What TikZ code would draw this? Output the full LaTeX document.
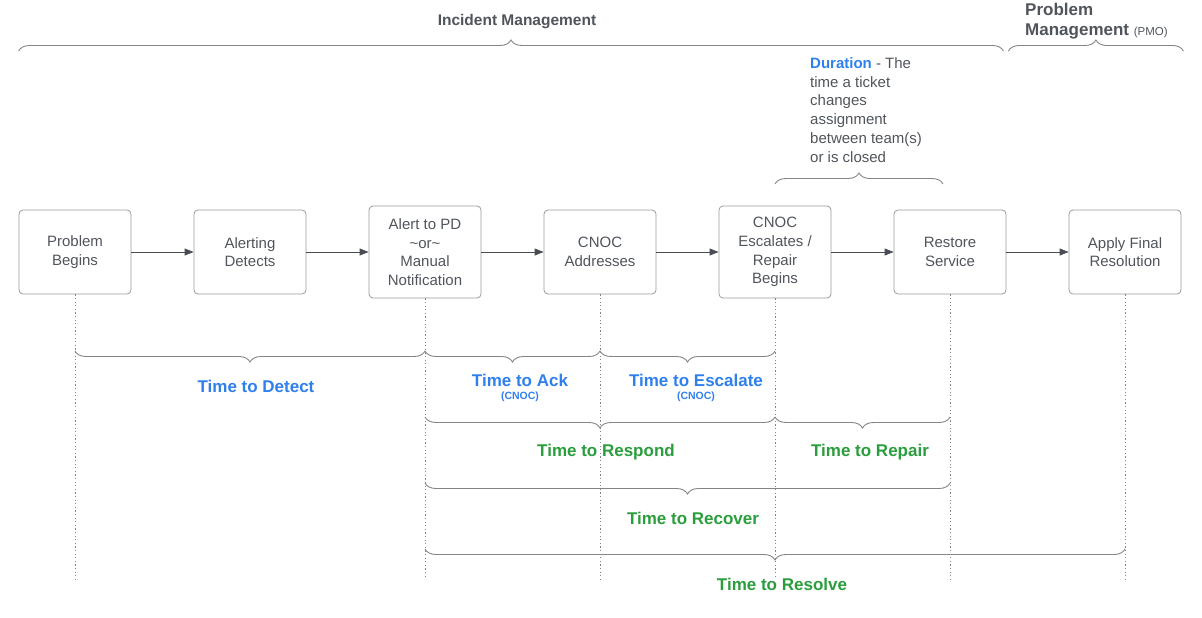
\documentclass[tikz,border=0pt]{standalone}
\usepackage{fontspec}
\setmainfont{Liberation Sans}
\usetikzlibrary{positioning}
\usetikzlibrary{arrows.meta}
\usetikzlibrary{decorations.pathreplacing}
\definecolor{boxline}{HTML}{9A9A9A}
\definecolor{txtgray}{HTML}{50555C}
\definecolor{lineg}{HTML}{858585}
\definecolor{tblue}{HTML}{2F80ED}
\definecolor{tgreen}{HTML}{2A9D3C}
\tikzset{node distance=62.2pt,
    box/.style={
        draw=boxline,
        line width=0.8pt,
        rounded corners=4pt,
        minimum width=112pt,
        minimum height=84pt,
        align=center,
        text=txtgray,
        font=\fontsize{15}{18.7}\selectfont},
    tall/.style={box, minimum height=92pt},
    arr/.style={
        draw=txtgray!90!black,
        line width=0.8pt,
        -{Triangle[length=9pt,width=7pt]}},
    drop/.style={
        draw=lineg,
        line width=0.8pt,
        dash pattern=on 1.2pt off 2.4pt},
    bup/.style={
        draw=lineg,
        line width=0.9pt,
        decorate,
        decoration={brace, amplitude=11pt}},
    bdown/.style={
        draw=lineg,
        line width=0.9pt,
        decorate,
        decoration={brace, mirror, amplitude=11pt}},
    lbl/.style={font=\fontsize{17}{20}\selectfont\bfseries},
    sub/.style={font=\fontsize{10.5}{12}\selectfont\bfseries, text=tblue}}

\begin{document}
\begin{tikzpicture}[x=1pt, y=-1pt]
    \useasboundingbox (0,0) rectangle (1202,618);
    % process steps
    \node[box] (pb) at (75,252) {Problem\\Begins};
    \node[box, right=of pb] (ad) {Alerting\\Detects};
    \node[tall, right=of ad] (al) {Alert to PD\\\textasciitilde or\textasciitilde\\Manual\\Notification};
    \node[box, right=of al] (ca) {CNOC\\Addresses};
    \node[tall, right=of ca] (ce) {CNOC\\Escalates /\\Repair\\Begins};
    \node[box, right=of ce] (rs) {Restore\\Service};
    \node[box, right=of rs] (af) {Apply Final\\Resolution};
    \draw[arr] (pb) -- (ad);
    \draw[arr] (ad) -- (al);
    \draw[arr] (al) -- (ca);
    \draw[arr] (ca) -- (ce);
    \draw[arr] (ce) -- (rs);
    \draw[arr] (rs) -- (af);
    % rows
    \coordinate (ytop) at (0,51);
    \coordinate (ydur) at (0,184);
    \coordinate (y1) at (0,351);
    \coordinate (y2) at (0,417);
    \coordinate (y3) at (0,483);
    \coordinate (y4) at (0,549);
    \coordinate (ybot) at (0,579);
    % time lines
    \draw[drop] (pb.south) -- (pb |- ybot);
    \draw[drop] (al.south) -- (al |- ybot);
    \draw[drop] (ca.south) -- (ca |- ybot);
    \draw[drop] (ce.south) -- (ce |- ybot);
    \draw[drop] (rs.south) -- (rs |- ybot);
    \draw[drop] (af.south) -- (af |- ybot);
    % top
    \draw[bup] (pb.west |- ytop) -- ([xshift=-3pt]rs.east |- ytop);
    \draw[bup] ([xshift=2pt]rs.east |- ytop) -- ([xshift=2pt]af.east |- ytop);
    \node[lbl, text=txtgray, font=\fontsize{15.5}{18}\selectfont\bfseries] (im) at (517,21.5) {Incident Management};
    \node[lbl, text=txtgray, align=left, anchor=west, inner sep=0pt] (pm) at (1025,21)
        {\fontsize{17}{20}\selectfont Problem\\Management {\fontsize{11.5}{12}\selectfont\mdseries (PMO)}};
    \draw[bup] (ce |- ydur) -- ([xshift=-7pt]rs |- ydur);
    \node[align=left, anchor=west, inner sep=0pt, text=txtgray, font=\fontsize{15}{18.8}\selectfont] (du) at (810,110)
        {{\bfseries\color{tblue}Duration} - The\\time a ticket\\changes\\assignment\\between team(s)\\or is closed};
    % durations
    \draw[bdown] (pb |- y1) -- (al |- y1);
    \draw[bdown] (al |- y1) -- (ca |- y1);
    \draw[bdown] (ca |- y1) -- (ce |- y1);
    \draw[bdown] (al |- y2) -- (ce |- y2);
    \draw[bdown] (ce |- y2) -- (rs |- y2);
    \draw[bdown] (al |- y3) -- (rs |- y3);
    \draw[bdown] (al |- y4) -- (af |- y4);
    \node[lbl, text=tblue] (tdet) at (256,386) {Time to Detect};
    \node[lbl, text=tblue] (tack) at (520,380) {Time to Ack};
    \node[sub] (tackc) at (520,397) {(CNOC)};
    \node[lbl, text=tblue] (tesc) at (696,380) {Time to Escalate};
    \node[sub] (tescc) at (696,397) {(CNOC)};
    \node[lbl, text=tgreen] (tres) at (606,452.5) {Time to Respond};
    \node[lbl, text=tgreen] (trep) at (870,452.5) {Time to Repair};
    \node[lbl, text=tgreen] (trec) at (693,518.5) {Time to Recover};
    \node[lbl, text=tgreen] (tsol) at (782,584.5) {Time to Resolve};
\end{tikzpicture}
\end{document}
